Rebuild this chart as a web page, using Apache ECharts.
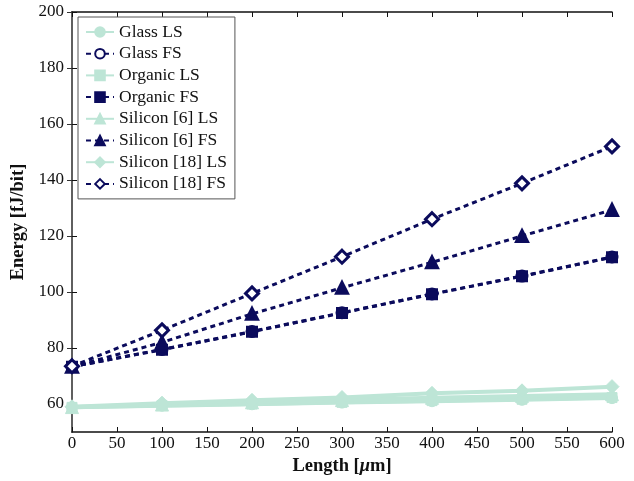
<!DOCTYPE html>
<html>
<head>
<meta charset="utf-8">
<script src="https://cdn.jsdelivr.net/npm/echarts@6/dist/echarts.min.js"></script>
<style>
  html, body { margin: 0; padding: 0; background: #fff; }
  #chart { width: 634px; height: 481px; }
</style>
</head>
<body>
<div id="chart"></div>
<script>
// Link length (µm) on the x axis
const lengths = [0, 100, 200, 300, 400, 500, 600];

// Energy per bit (fJ/bit), LS = light-colour solid, FS = dark dashed
const glassLS     = [58.8, 59.4, 59.9, 60.5, 61.0, 61.5, 62.1];
const glassFS     = [73.3, 79.5, 85.9, 92.6, 99.3, 105.7, 112.5];
const organicLS   = [58.8, 59.5, 60.0, 60.6, 61.2, 61.7, 62.3];
const organicFS   = [73.3, 79.4, 85.8, 92.5, 99.2, 105.6, 112.4];
const silicon6LS  = [58.9, 59.8, 60.6, 61.4, 62.2, 62.9, 63.5];
const silicon6FS  = [73.3, 82.0, 92.2, 101.5, 110.6, 120.0, 129.3];
const silicon18LS = [59.0, 60.3, 61.3, 62.3, 63.8, 64.7, 66.2];
const silicon18FS = [73.5, 86.3, 99.5, 112.6, 126.0, 138.8, 152.0];

const yTicks = [60, 80, 100, 120, 140, 160, 180, 200];

const MINT = '#bde5d6';
const NAVY = '#0b0b5c';
const FONT = 'Liberation Serif';

const pairs = v => lengths.map((x, i) => [x, v[i]]);

function lsSeries(name, data, symbol, size) {
  return {
    name, type: 'line', data: pairs(data),
    symbol, symbolSize: size,
    lineStyle: { color: MINT, width: 4, type: 'solid' },
    itemStyle: { color: MINT, borderColor: MINT, borderWidth: 1 },
    emphasis: { disabled: true }, z: 2
  };
}
function fsSeries(name, data, symbol, size, fill) {
  return {
    name, type: 'line', data: pairs(data),
    symbol, symbolSize: size,
    lineStyle: { color: NAVY, width: 3, type: [5, 4] },
    itemStyle: { color: fill, borderColor: NAVY, borderWidth: 3 },
    emphasis: { disabled: true }, z: 3
  };
}

const chart = echarts.init(document.getElementById('chart'));
chart.setOption({
  animation: false,
  backgroundColor: '#fff',
  grid: { left: 72, right: 22, top: 12, bottom: 49 },
  legend: {
    orient: 'vertical', left: 78, top: 17,
    backgroundColor: '#fff', borderColor: '#555', borderWidth: 1,
    padding: [6, 8, 6, 7],
    itemWidth: 28, itemHeight: 12, itemGap: 3.7,
    textStyle: { fontFamily: FONT, fontSize: 17.5, color: '#111' },
    data: ['Glass LS', 'Glass FS', 'Organic LS', 'Organic FS',
           'Silicon [6] LS', 'Silicon [6] FS', 'Silicon [18] LS', 'Silicon [18] FS']
  },
  xAxis: [{
    type: 'value', min: 0, max: 600, interval: 50, position: 'bottom',
    name: 'Length [{i|μ}m]', nameLocation: 'middle', nameGap: 24,
    nameTextStyle: {
      fontFamily: FONT, fontSize: 18.5, fontWeight: 'bold', color: '#111',
      rich: { i: { fontFamily: FONT, fontSize: 18.5, fontStyle: 'italic', color: '#111' } }
    },
    axisLine: { show: true, lineStyle: { color: '#111', width: 1.5 } },
    axisTick: { show: true, inside: true, length: 5, lineStyle: { color: '#111' } },
    axisLabel: { fontFamily: FONT, fontSize: 17, color: '#111', margin: 3 },
    splitLine: { show: false }
  }, {
    type: 'value', min: 0, max: 600, interval: 50, position: 'top',
    axisLine: { show: true, lineStyle: { color: '#111', width: 1.5 } },
    axisTick: { show: true, inside: true, length: 5, lineStyle: { color: '#111' } },
    axisLabel: { show: false }, splitLine: { show: false }
  }],
  yAxis: [{
    type: 'value', min: 50, max: 200, position: 'left',
    name: 'Energy [fJ/bit]', nameLocation: 'middle', nameGap: 44,
    nameTextStyle: { fontFamily: FONT, fontSize: 18.5, fontWeight: 'bold', color: '#111' },
    axisLine: { show: true, lineStyle: { color: '#111', width: 1.5 } },
    axisTick: { show: true, inside: true, length: 5, customValues: yTicks, lineStyle: { color: '#111' } },
    axisLabel: { fontFamily: FONT, fontSize: 17, color: '#111', margin: 8, customValues: yTicks },
    splitLine: { show: false }
  }, {
    type: 'value', min: 50, max: 200, position: 'right',
    axisLine: { show: true, lineStyle: { color: '#666', width: 1.5 } },
    axisTick: { show: true, inside: true, length: 5, customValues: yTicks, lineStyle: { color: '#333' } },
    axisLabel: { show: false }, splitLine: { show: false }
  }],
  series: [
    lsSeries('Glass LS', glassLS, 'circle', 11),
    fsSeries('Glass FS', glassFS, 'circle', 10, '#fff'),
    lsSeries('Organic LS', organicLS, 'rect', 10),
    fsSeries('Organic FS', organicFS, 'rect', 9, NAVY),
    lsSeries('Silicon [6] LS', silicon6LS, 'triangle', 13),
    fsSeries('Silicon [6] FS', silicon6FS, 'triangle', 11, NAVY),
    lsSeries('Silicon [18] LS', silicon18LS, 'diamond', 14),
    fsSeries('Silicon [18] FS', silicon18FS, 'diamond', 13, '#fff')
  ]
});
</script>
</body>
</html>
